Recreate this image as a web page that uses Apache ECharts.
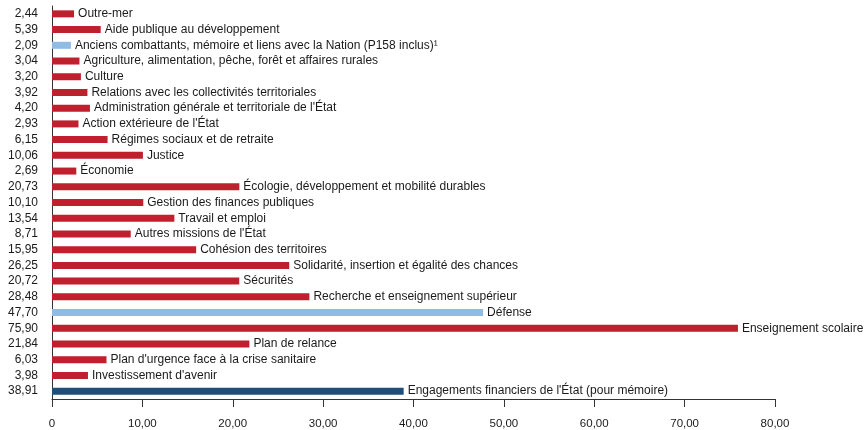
<!DOCTYPE html>
<html>
<head>
<meta charset="utf-8">
<script src="https://cdn.jsdelivr.net/npm/echarts@6/dist/echarts.min.js"></script>
<style>
	html, body { margin: 0; padding: 0; background: #fff; }
	#chart { width: 866px; height: 430px; }
</style>
</head>
<body>
<div id="chart"></div>
<script>
// top to bottom, as read on the picture
const missions = [
	"Outre-mer",
	"Aide publique au développement",
	"Anciens combattants, mémoire et liens avec la Nation (P158 inclus)¹",
	"Agriculture, alimentation, pêche, forêt et affaires rurales",
	"Culture",
	"Relations avec les collectivités territoriales",
	"Administration générale et territoriale de l'État",
	"Action extérieure de l'État",
	"Régimes sociaux et de retraite",
	"Justice",
	"Économie",
	"Écologie, développement et mobilité durables",
	"Gestion des finances publiques",
	"Travail et emploi",
	"Autres missions de l'État",
	"Cohésion des territoires",
	"Solidarité, insertion et égalité des chances",
	"Sécurités",
	"Recherche et enseignement supérieur",
	"Défense",
	"Enseignement scolaire",
	"Plan de relance",
	"Plan d'urgence face à la crise sanitaire",
	"Investissement d'avenir",
	"Engagements financiers de l'État (pour mémoire)"
];
const amounts = [2.44, 5.39, 2.09, 3.04, 3.20, 3.92, 4.20, 2.93, 6.15, 10.06, 2.69, 20.73, 10.10,
	13.54, 8.71, 15.95, 26.25, 20.72, 28.48, 47.70, 75.90, 21.84, 6.03, 3.98, 38.91];
// group of each bar: "civil", "defense" or "memo"
const groups = ["civil", "civil", "defense", "civil", "civil", "civil", "civil", "civil", "civil", "civil",
	"civil", "civil", "civil", "civil", "civil", "civil", "civil", "civil", "civil", "defense",
	"civil", "civil", "civil", "civil", "memo"];
const xTicks = [0, 10, 20, 30, 40, 50, 60, 70, 80];

const colors = { civil: "#c01f2e", defense: "#8fbbe5", memo: "#1f4e79" };
const fmt = v => v === 0 ? "0" : v.toFixed(2).replace(".", ",");

const chart = echarts.init(document.getElementById("chart"));
chart.setOption({
	animation: false,
	textStyle: { fontFamily: "Liberation Sans, Arial, sans-serif" },
	grid: { left: 52, right: 91, top: 6, bottom: 31, containLabel: false },
	xAxis: {
		type: "value",
		min: xTicks[0],
		max: xTicks[xTicks.length - 1],
		interval: 10,
		splitLine: { show: false },
		axisLine: { show: true, lineStyle: { color: "#333", width: 1 } },
		axisTick: { show: true, length: 8, lineStyle: { color: "#333" } },
		axisLabel: { formatter: fmt, color: "#1a1a1a", fontSize: 11.5, margin: 19 }
	},
	yAxis: {
		type: "category",
		inverse: true,
		data: amounts.map(fmt),
		axisLine: { show: true, lineStyle: { color: "#333", width: 1 } },
		axisTick: { show: false },
		axisLabel: { color: "#1a1a1a", fontSize: 12, margin: 14 }
	},
	series: [{
		type: "bar",
		barWidth: 7,
		data: amounts.map((v, i) => ({ value: v, itemStyle: { color: colors[groups[i]] } })),
		label: {
			show: true,
			position: "right",
			distance: 4,
			color: "#1a1a1a",
			fontSize: 12,
			formatter: p => missions[p.dataIndex]
		}
	}]
});
</script>
</body>
</html>
